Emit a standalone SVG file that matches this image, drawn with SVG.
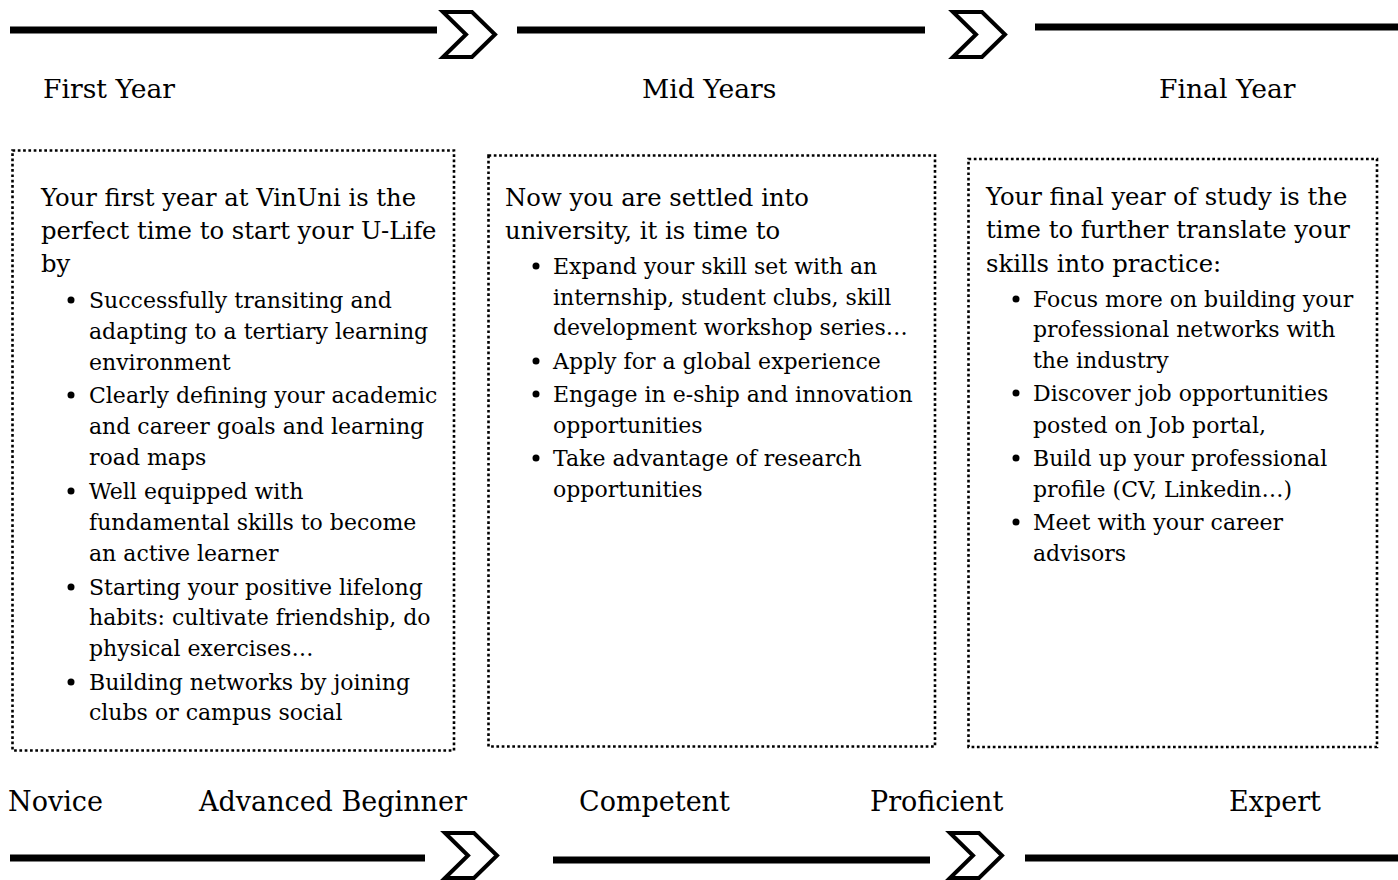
<svg xmlns="http://www.w3.org/2000/svg" xmlns:xlink="http://www.w3.org/1999/xlink" width="1398" height="880" viewBox="0 0 1398 880">
<style>
.bar{stroke:#000;stroke-width:7;fill:none}
.chev{fill:#fff;stroke:#000;stroke-width:4;stroke-linejoin:miter}
.box{fill:#fff;stroke:#000;stroke-width:2.6;stroke-dasharray:2.7 2.6}
.t{font-family:"DejaVu Serif","Liberation Serif",serif;fill:#000}
.h{font-size:26.6px}
.lv{font-size:27px}
.p{font-size:24.3px}
.b{font-size:22px}
.dot{fill:#000}
</style>
<defs>
<polygon id="chevron" class="chev" points="0,0 29,0 52,22.5 29,45 0,45 23,22.5"/>
</defs>
<rect width="1398" height="880" fill="#fff"/>
<g id="connectors">
<line class="bar" x1="10" y1="30" x2="437" y2="30"/>
<use xlink:href="#chevron" x="443" y="12"/>
<line class="bar" x1="517" y1="30" x2="925" y2="30"/>
<use xlink:href="#chevron" x="953" y="12"/>
<line class="bar" x1="1035" y1="27" x2="1398" y2="27"/>
<line class="bar" x1="10" y1="858" x2="425" y2="858"/>
<use xlink:href="#chevron" x="445" y="833"/>
<line class="bar" x1="553" y1="860" x2="930" y2="860"/>
<use xlink:href="#chevron" x="950" y="833"/>
<line class="bar" x1="1025" y1="858" x2="1398" y2="858"/>
</g>
<g id="stage-labels">
<text class="t h" x="43" y="98">First Year</text>
<text class="t h" x="642" y="98">Mid Years</text>
<text class="t h" x="1159" y="98">Final Year</text>
</g>
<g id="level-labels">
<text class="t lv" x="8" y="811">Novice</text>
<text class="t lv" x="199" y="811">Advanced Beginner</text>
<text class="t lv" x="579" y="811">Competent</text>
<text class="t lv" x="870" y="811">Proficient</text>
<text class="t lv" x="1229" y="811">Expert</text>
</g>
<g id="first-year-box">
<rect class="box" x="12.5" y="150.5" width="441.5" height="600"/>
<text class="t p" x="41" y="206">Your first year at VinUni is the</text>
<text class="t p" x="41" y="239">perfect time to start your U-Life</text>
<text class="t p" x="41" y="272">by</text>
<circle class="dot" cx="71" cy="300" r="3.5"/>
<text class="t b" x="89" y="308">Successfully transiting and</text>
<text class="t b" x="89" y="339">adapting to a tertiary learning</text>
<text class="t b" x="89" y="370">environment</text>
<circle class="dot" cx="71" cy="395" r="3.5"/>
<text class="t b" x="89" y="403">Clearly defining your academic</text>
<text class="t b" x="89" y="434">and career goals and learning</text>
<text class="t b" x="89" y="465">road maps</text>
<circle class="dot" cx="71" cy="491" r="3.5"/>
<text class="t b" x="89" y="499">Well equipped with</text>
<text class="t b" x="89" y="530">fundamental skills to become</text>
<text class="t b" x="89" y="561">an active learner</text>
<circle class="dot" cx="71" cy="587" r="3.5"/>
<text class="t b" x="89" y="595">Starting your positive lifelong</text>
<text class="t b" x="89" y="625">habits: cultivate friendship, do</text>
<text class="t b" x="89" y="656">physical exercises…</text>
<circle class="dot" cx="71" cy="682" r="3.5"/>
<text class="t b" x="89" y="690">Building networks by joining</text>
<text class="t b" x="89" y="720">clubs or campus social</text>
</g>
<g id="mid-years-box">
<rect class="box" x="488.5" y="155.5" width="446.5" height="591"/>
<text class="t p" x="505" y="206">Now you are settled into</text>
<text class="t p" x="505" y="239">university, it is time to</text>
<circle class="dot" cx="536" cy="266" r="3.5"/>
<text class="t b" x="553" y="274">Expand your skill set with an</text>
<text class="t b" x="553" y="305">internship, student clubs, skill</text>
<text class="t b" x="553" y="335">development workshop series…</text>
<circle class="dot" cx="536" cy="361" r="3.5"/>
<text class="t b" x="553" y="369">Apply for a global experience</text>
<circle class="dot" cx="536" cy="394" r="3.5"/>
<text class="t b" x="553" y="402">Engage in e-ship and innovation</text>
<text class="t b" x="553" y="433">opportunities</text>
<circle class="dot" cx="536" cy="458" r="3.5"/>
<text class="t b" x="553" y="466">Take advantage of research</text>
<text class="t b" x="553" y="497">opportunities</text>
</g>
<g id="final-year-box">
<rect class="box" x="968.5" y="159" width="408.5" height="588"/>
<text class="t p" x="986" y="205">Your final year of study is the</text>
<text class="t p" x="986" y="238">time to further translate your</text>
<text class="t p" x="986" y="272">skills into practice:</text>
<circle class="dot" cx="1016" cy="299" r="3.5"/>
<text class="t b" x="1033" y="307">Focus more on building your</text>
<text class="t b" x="1033" y="337">professional networks with</text>
<text class="t b" x="1033" y="368">the industry</text>
<circle class="dot" cx="1016" cy="393" r="3.5"/>
<text class="t b" x="1033" y="401">Discover job opportunities</text>
<text class="t b" x="1033" y="433">posted on Job portal,</text>
<circle class="dot" cx="1016" cy="458" r="3.5"/>
<text class="t b" x="1033" y="466">Build up your professional</text>
<text class="t b" x="1033" y="497">profile (CV, Linkedin…)</text>
<circle class="dot" cx="1016" cy="522" r="3.5"/>
<text class="t b" x="1033" y="530">Meet with your career</text>
<text class="t b" x="1033" y="561">advisors</text>
</g>
</svg>
